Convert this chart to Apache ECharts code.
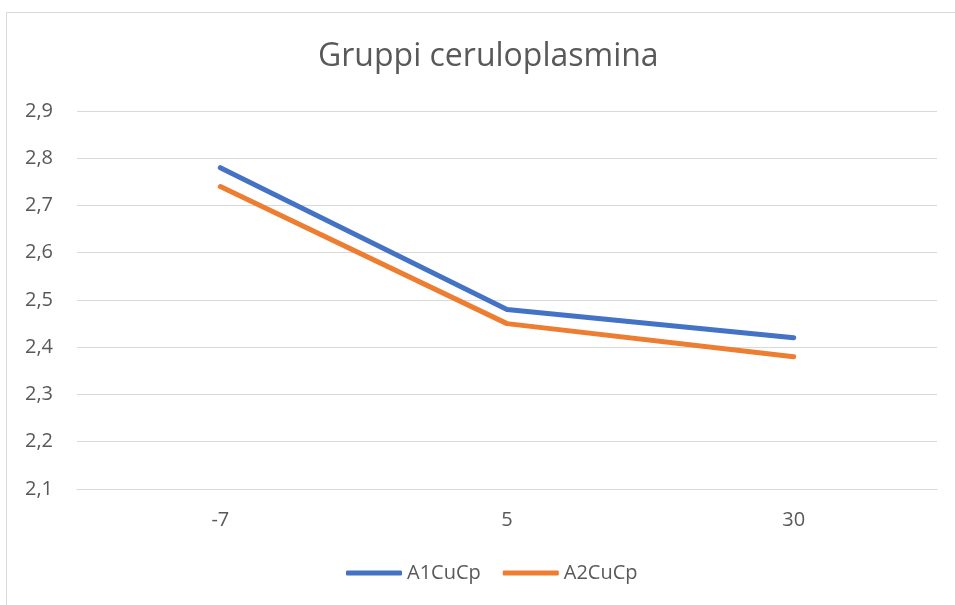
<!DOCTYPE html>
<html><head><meta charset="utf-8">
<script src="https://cdn.jsdelivr.net/npm/echarts@6/dist/echarts.min.js"></script>
<style>html,body{margin:0;padding:0;background:#fff}#c{width:955px;height:605px}</style>
</head><body><div id="c"></div>
<script>
const categories = ['-7', '5', '30'];
const seriesNames = ['A1CuCp', 'A2CuCp'];
const a1Values = [2.78, 2.48, 2.42];
const a2Values = [2.74, 2.45, 2.38];
const titleText = 'Gruppi ceruloplasmina';

const font = '"Open Sans", sans-serif';
const chart = echarts.init(document.getElementById('c'));
chart.setOption({
  animation: false,
  backgroundColor: '#fff',
  graphic: [{type: 'rect', shape: {x: 6.5, y: 12.5, width: 1000, height: 700}, style: {fill: 'none', stroke: '#d9d9d9', lineWidth: 1}, silent: true}],
  title: {text: titleText, left: 313, top: 36, textStyle: {fontFamily: font, fontSize: 32, fontWeight: 'normal', color: '#595959'}},
  legend: {bottom: 17, left: 341, itemWidth: 56, itemHeight: 5, itemGap: 22,
    textStyle: {fontFamily: font, fontSize: 20, color: '#595959'},
    data: seriesNames.map(n => ({name: n, icon: 'roundRect'}))},
  grid: {left: 77, right: 18, top: 111, bottom: 116, containLabel: false},
  xAxis: {type: 'category', data: categories, boundaryGap: true,
    axisLine: {show: true, lineStyle: {color: '#d9d9d9', width: 1}}, axisTick: {show: false},
    axisLabel: {fontFamily: font, fontSize: 20, color: '#595959', margin: 21}},
  yAxis: {type: 'value', min: 2.1, max: 2.9, interval: 0.1,
    axisLine: {show: false}, axisTick: {show: false},
    splitLine: {lineStyle: {color: '#d9d9d9', width: 1}},
    axisLabel: {fontFamily: font, fontSize: 20, color: '#595959', margin: 24,
      formatter: v => v.toFixed(1).replace('.', ',')}},
  series: [
    {name: seriesNames[0], type: 'line', data: a1Values, showSymbol: false, symbol: 'none',
      lineStyle: {color: '#4472C4', width: 5, cap: 'round', join: 'round'}, itemStyle: {color: '#4472C4'}},
    {name: seriesNames[1], type: 'line', data: a2Values, showSymbol: false, symbol: 'none',
      lineStyle: {color: '#ED7D31', width: 5, cap: 'round', join: 'round'}, itemStyle: {color: '#ED7D31'}}
  ]
});
</script></body></html>
